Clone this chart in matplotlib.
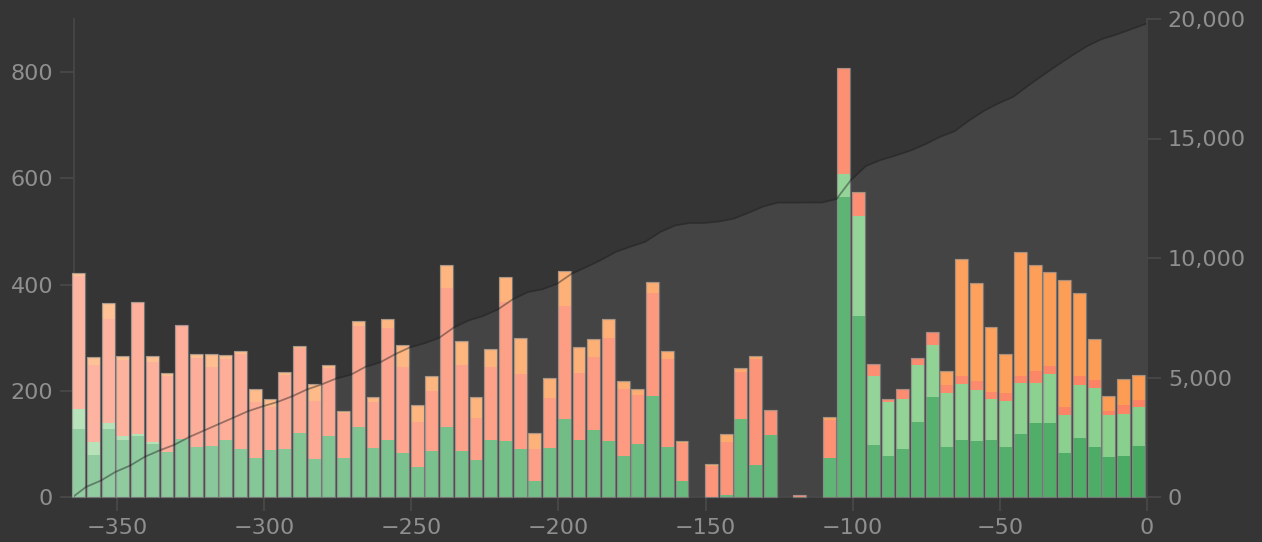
import numpy as np
import matplotlib
matplotlib.use("Agg")
import matplotlib.pyplot as plt
import matplotlib.ticker as ticker
from matplotlib.colors import to_rgb


# bar positions (days before today), one bar per 5 days
days = np.arange(-363, 0, 5)

dark_green = [128, 80, 128, 107, 114, 100, 85, 110, 94, 96, 108, 90, 74, 89, 90,
              121, 71, 115, 73, 131, 92, 107, 82, 56, 86, 132, 86, 70, 108, 105,
              91, 31, 93, 146, 107, 126, 105, 78, 100, 190, 95, 31, 0, 0, 4,
              147, 60, 117, 0, 0, 0, 73, 564, 341, 98, 77, 90, 141, 188, 95,
              107, 106, 107, 95, 118, 139, 139, 82, 112, 95, 75, 78, 96]
light_green = [38, 24, 11, 7, 5, 3, 0, 0, 0, 0, 0, 0, 0, 0, 0,
               0, 0, 0, 0, 0, 0, 0, 0, 0, 0, 0, 0, 0, 0, 0,
               0, 0, 0, 0, 0, 0, 0, 0, 0, 0, 0, 0, 0, 0, 0,
               0, 0, 0, 0, 0, 0, 0, 45, 189, 130, 102, 94, 107, 98, 100,
               106, 96, 77, 85, 96, 76, 93, 72, 98, 110, 79, 78, 73]
salmon = [250, 145, 196, 144, 246, 152, 143, 213, 168, 149, 151, 179, 104, 80, 140,
          159, 110, 127, 85, 191, 87, 212, 163, 85, 114, 261, 163, 79, 137, 263,
          140, 59, 94, 214, 127, 138, 194, 125, 92, 194, 165, 71, 0, 59, 100,
          89, 199, 45, 0, 3, 0, 72, 198, 42, 22, 6, 20, 14, 24, 15,
          15, 17, 14, 16, 13, 22, 15, 15, 18, 16, 7, 17, 13]
orange = [6, 14, 31, 8, 3, 11, 5, 0, 8, 25, 9, 5, 25, 15, 5,
          5, 32, 7, 3, 9, 9, 16, 42, 32, 27, 44, 44, 39, 33, 47,
          69, 31, 38, 66, 48, 33, 37, 15, 11, 20, 15, 4, 0, 4, 15,
          6, 6, 2, 0, 0, 0, 6, 0, 2, 0, 0, 0, 0, 0, 27,
          221, 184, 122, 74, 235, 200, 177, 240, 157, 77, 29, 49, 47]

layers = [dark_green, light_green, salmon, orange]
base_colors = ['#4aab63', '#88cf8c', '#fc8262', '#fd9b52']

total = np.sum(layers, axis=0)
cumulative = np.cumsum(total)

bg = '#353535'
txt = '#8f8f8f'

fig = plt.figure(figsize=(12.62, 5.42), dpi=100, facecolor=bg)
ax = fig.add_axes([74 / 1262, 45 / 542, (1147 - 74) / 1262, (497 - 19) / 542])
ax2 = ax.twinx()
ax.set_zorder(ax2.get_zorder() + 1)
ax.patch.set_visible(False)
ax2.set_facecolor(bg)

# cumulative area, behind the bars
cx = np.concatenate([[-365], days + 2.5])
cy = np.concatenate([[0], cumulative])
ax2.fill_between(cx, 0, cy, color='#444444', lw=0)
ax.plot(cx, cy, transform=ax2.transData, color='#222222', alpha=0.45, lw=1.3,
        solid_joinstyle='round', zorder=5)

# bars get paler towards the past
fade = np.linspace(0.4, 0.0, len(days))
width = 4.4
bottom = np.zeros(len(days))
for vals, col in zip(layers, base_colors):
    rgb = np.array(to_rgb(col))
    cols = [tuple(rgb * (1 - f) + f) for f in fade]
    ax.bar(days, vals, width=width, bottom=bottom, color=cols, lw=0, clip_on=False, zorder=3)
    bottom += np.array(vals)
nz = total > 0
ax.bar(days[nz], total[nz], width=width, fill=False, edgecolor='#8a8a8a', lw=0.9, alpha=0.7,
       joinstyle='round', clip_on=False, zorder=4)

ax.set_xlim(-364.6, 0)
ax.set_ylim(0, 900)
ax2.set_ylim(0, 20000)
ax.set_xticks([-350, -300, -250, -200, -150, -100, -50, 0])
ax.set_yticks([0, 200, 400, 600, 800])
ax2.set_yticks([0, 5000, 10000, 15000, 20000])
ax2.yaxis.set_major_formatter(ticker.FuncFormatter(lambda v, p: f'{int(v):,}'))

for a in (ax, ax2):
    for s in a.spines.values():
        s.set_color('#484848')
        s.set_linewidth(1.2)
    a.spines['top'].set_visible(False)
    a.tick_params(colors='#4a4a4a', labelcolor=txt, labelsize=16, length=10, width=1.2, pad=5)
ax.spines['right'].set_visible(False)
ax2.spines['left'].set_visible(False)
ax2.spines['bottom'].set_visible(False)

fig.savefig('out.png', dpi=100, facecolor=bg)
